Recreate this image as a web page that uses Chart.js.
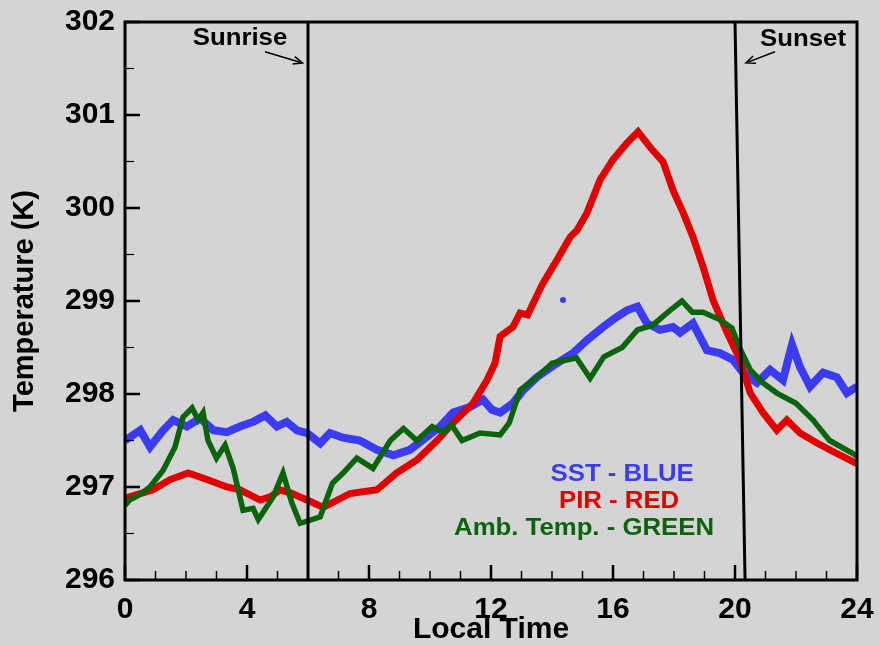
<!DOCTYPE html>
<html>
<head>
<meta charset="utf-8">
<script src="https://cdn.jsdelivr.net/npm/chart.js"></script>
<style>
  html, body { margin: 0; padding: 0; background: #d4d4d4; overflow: hidden; }
</style>
</head>
<body>
<canvas id="myChart" width="879" height="645"></canvas>
<script>
// SST (blue)
const sstTime = [0, 0.5, 0.82, 1.25, 1.58, 2.03, 2.46, 2.9, 3.34, 3.77, 4.2, 4.6, 4.98, 5.3, 5.64, 5.97, 6.4, 6.72, 7.15, 7.7, 8.26, 8.8, 9.34, 9.9, 10.33, 10.76, 11.31, 11.74, 12.03, 12.3, 12.72, 13.05, 13.5, 14.16, 14.69, 15.15, 15.67, 16.13, 16.46, 16.8, 17.11, 17.54, 17.97, 18.2, 18.62, 19.08, 19.5, 19.93, 20.26, 20.72, 21.15, 21.57, 21.87, 22.13, 22.46, 22.89, 23.34, 23.67, 24];
const sstTemp = [297.5, 297.61, 297.43, 297.61, 297.72, 297.65, 297.74, 297.61, 297.59, 297.65, 297.7, 297.77, 297.65, 297.7, 297.61, 297.58, 297.47, 297.58, 297.53, 297.5, 297.4, 297.34, 297.4, 297.54, 297.65, 297.8, 297.86, 297.94, 297.83, 297.8, 297.9, 298.04, 298.18, 298.33, 298.44, 298.58, 298.72, 298.83, 298.9, 298.94, 298.76, 298.69, 298.72, 298.66, 298.76, 298.47, 298.44, 298.37, 298.23, 298.12, 298.26, 298.15, 298.53, 298.29, 298.08, 298.23, 298.18, 298.01, 298.08];
const sstStrayTime = [14.36];
const sstStrayTemp = [299.01];

// PIR (red)
const pirTime = [0, 0.92, 1.48, 2.07, 2.69, 3.34, 3.77, 4.43, 4.8, 5.08, 5.4, 5.97, 6.5, 7.38, 8.26, 8.9, 9.57, 10.23, 10.76, 11.41, 11.87, 12.13, 12.3, 12.72, 12.95, 13.2, 13.7, 14.16, 14.6, 14.82, 15.15, 15.57, 16.0, 16.46, 16.82, 17.3, 17.64, 17.97, 18.3, 18.62, 18.95, 19.28, 19.74, 20.16, 20.5, 20.92, 21.37, 21.7, 22.13, 22.7, 23.34, 24];
const pirTemp = [296.88, 296.97, 297.08, 297.15, 297.08, 297.0, 296.97, 296.86, 296.9, 296.97, 296.94, 296.86, 296.78, 296.93, 296.97, 297.15, 297.29, 297.5, 297.69, 297.9, 298.15, 298.33, 298.62, 298.72, 298.87, 298.85, 299.19, 299.44, 299.69, 299.76, 299.95, 300.3, 300.52, 300.7, 300.82, 300.62, 300.5, 300.19, 299.95, 299.69, 299.37, 299.01, 298.66, 298.37, 298.01, 297.8, 297.61, 297.72, 297.58, 297.47, 297.36, 297.25];

// Ambient temperature (green)
const ambTime = [0, 0.15, 0.5, 0.82, 1.25, 1.64, 1.9, 2.2, 2.4, 2.56, 2.72, 3.0, 3.28, 3.54, 3.87, 4.2, 4.37, 4.85, 5.18, 5.47, 5.74, 5.95, 6.4, 6.8, 7.15, 7.6, 8.13, 8.7, 9.13, 9.57, 10.07, 10.43, 10.7, 11.05, 11.64, 12.3, 12.6, 12.95, 13.5, 14.0, 14.8, 15.25, 15.7, 16.3, 16.8, 17.3, 17.87, 18.26, 18.6, 18.95, 19.5, 19.9, 20.16, 20.5, 20.92, 21.37, 22.0, 22.56, 23.1, 23.87, 24];
const ambTemp = [296.8, 296.86, 296.92, 297.0, 297.18, 297.43, 297.75, 297.85, 297.72, 297.8, 297.5, 297.31, 297.45, 297.21, 296.75, 296.77, 296.65, 296.89, 297.15, 296.83, 296.61, 296.63, 296.68, 297.04, 297.15, 297.31, 297.2, 297.5, 297.63, 297.5, 297.65, 297.59, 297.67, 297.5, 297.58, 297.56, 297.69, 298.04, 298.18, 298.33, 298.39, 298.17, 298.4, 298.5, 298.69, 298.74, 298.9, 299.0, 298.88, 298.88, 298.8, 298.71, 298.49, 298.26, 298.12, 298.01, 297.9, 297.72, 297.5, 297.36, 297.33];

// sunrise / sunset marker lines
const sunriseTime = [6, 6];
const sunriseTemp = [296, 302];
const sunsetTime = [20.0, 20.33];
const sunsetTemp = [302, 296];

// ticks
const xMajorTicks = [0, 4, 8, 12, 16, 20, 24];
const xMinorTicks = [1, 2, 3, 5, 6, 7, 9, 10, 11, 13, 14, 15, 17, 18, 19, 21, 22, 23];
const yMajorTicks = [296, 297, 298, 299, 300, 301, 302];
const yMinorTicks = [296.5, 297.5, 298.5, 299.5, 300.5, 301.5];

const legendLines = ['SST - BLUE', 'PIR - RED', 'Amb. Temp. - GREEN'];
const legendColors = ['#3b3bf2', '#e00000', '#0b640b'];

const pts = (xs, ys) => xs.map((x, i) => ({ x: x, y: ys[i] }));
const FONT = '"Liberation Sans", Arial, Helvetica, sans-serif';

// text slightly wider than the plain font, like the original
function wideText(ctx, text, px, py, sx) {
  ctx.save();
  ctx.translate(px, py);
  ctx.scale(sx, 1);
  ctx.fillText(text, 0, 0);
  ctx.restore();
}

const decorations = {
  id: 'decorations',
  afterDatasetsDraw(chart) {
    const { ctx, chartArea: a, scales: { x, y } } = chart;
    ctx.save();
    ctx.strokeStyle = '#000';
    ctx.lineCap = 'butt';

    // inward ticks
    const tick = (x1, y1, x2, y2, w) => {
      ctx.lineWidth = w;
      ctx.beginPath(); ctx.moveTo(x1, y1); ctx.lineTo(x2, y2); ctx.stroke();
    };
    xMajorTicks.forEach(v => { const px = x.getPixelForValue(v); tick(px, a.bottom, px, a.bottom - 15, 2.5); });
    xMinorTicks.forEach(v => { const px = x.getPixelForValue(v); tick(px, a.bottom, px, a.bottom - 9, 1.5); });
    yMajorTicks.forEach(v => { const py = y.getPixelForValue(v); tick(a.left, py, a.left + 15, py, 2.5); });
    yMinorTicks.forEach(v => { const py = y.getPixelForValue(v); tick(a.left, py, a.left + 9, py, 1.2); });

    // frame
    ctx.lineWidth = 3;
    ctx.strokeRect(a.left, a.top, a.width, a.height);

    // annotation text + arrows
    ctx.fillStyle = '#000';
    ctx.font = 'bold 23px ' + FONT;
    ctx.textAlign = 'center';
    ctx.textBaseline = 'middle';
    wideText(ctx, 'Sunrise', x.getPixelForValue(3.77), y.getPixelForValue(301.82), 1.12);
    wideText(ctx, 'Sunset', x.getPixelForValue(22.23), y.getPixelForValue(301.81), 1.12);

    const arrow = (t0, k0, t1, k1) => {
      const x0 = x.getPixelForValue(t0), y0 = y.getPixelForValue(k0);
      const x1 = x.getPixelForValue(t1), y1 = y.getPixelForValue(k1);
      ctx.lineWidth = 1.5;
      ctx.beginPath(); ctx.moveTo(x0, y0); ctx.lineTo(x1, y1); ctx.stroke();
      const ang = Math.atan2(y1 - y0, x1 - x0);
      ctx.beginPath();
      ctx.moveTo(x1 - 10 * Math.cos(ang - 0.4), y1 - 10 * Math.sin(ang - 0.4));
      ctx.lineTo(x1, y1);
      ctx.lineTo(x1 - 10 * Math.cos(ang + 0.4), y1 - 10 * Math.sin(ang + 0.4));
      ctx.stroke();
    };
    arrow(4.59, 301.68, 5.82, 301.56);
    arrow(21.31, 301.68, 20.36, 301.56);

    // colour key
    ctx.font = 'bold 23px ' + FONT;
    const keyX = [16.3, 16.2, 15.05];
    const keyY = [297.13, 296.84, 296.55];
    legendLines.forEach((t, i) => {
      ctx.fillStyle = legendColors[i];
      wideText(ctx, t, x.getPixelForValue(keyX[i]), y.getPixelForValue(keyY[i]), 1.12);
    });
    ctx.restore();
  }
};

const bgPlugin = {
  id: 'bg',
  beforeDraw(chart) {
    const ctx = chart.ctx;
    ctx.save();
    ctx.fillStyle = '#d4d4d4';
    ctx.fillRect(0, 0, chart.width, chart.height);
    ctx.restore();
  }
};

new Chart(document.getElementById('myChart'), {
  type: 'scatter',
  data: {
    datasets: [
      { label: 'Sunrise', data: pts(sunriseTime, sunriseTemp), showLine: true, borderColor: '#000', borderWidth: 3, pointRadius: 0, order: 0 },
      { label: 'Sunset', data: pts(sunsetTime, sunsetTemp), showLine: true, borderColor: '#000', borderWidth: 3, pointRadius: 0, order: 0 },
      { label: 'Amb. Temp.', data: pts(ambTime, ambTemp), showLine: true, borderColor: '#0b640b', borderWidth: 5.5, pointRadius: 0, order: 1 },
      { label: 'PIR', data: pts(pirTime, pirTemp), showLine: true, borderColor: '#e00000', borderWidth: 7, pointRadius: 0, order: 2 },
      { label: 'SST', data: pts(sstTime, sstTemp), showLine: true, borderColor: '#3b3bf2', borderWidth: 8, pointRadius: 0, order: 3 },
      { label: 'SST stray', data: pts(sstStrayTime, sstStrayTemp), showLine: false, backgroundColor: '#3b3bf2', borderWidth: 0, pointRadius: 3, order: 3 }
    ]
  },
  options: {
    responsive: false,
    animation: false,
    layout: { padding: { top: 22, right: 22, left: 0, bottom: 0 } },
    plugins: { legend: { display: false }, tooltip: { enabled: false } },
    scales: {
      x: {
        type: 'linear', min: 0, max: 24,
        grid: { display: false, drawTicks: false },
        border: { display: false },
        ticks: { stepSize: 4, padding: 12, color: '#000', font: { family: FONT, size: 30, weight: 'bold' }, maxRotation: 0 },
        title: { display: true, text: 'Local Time', color: '#000', padding: 0, font: { family: FONT, size: 30, weight: 'bold', lineHeight: 1 } },
        afterFit: s => { s.height = 65; s.paddingLeft = 0; s.paddingRight = 0; }
      },
      y: {
        type: 'linear', min: 296, max: 302,
        grid: { display: false, drawTicks: false },
        border: { display: false },
        ticks: { stepSize: 1, padding: 10, color: '#000', font: { family: FONT, size: 30, weight: 'bold' } },
        title: { display: true, text: 'Temperature (K)', color: '#000', padding: { top: 10, bottom: 0 }, font: { family: FONT, size: 29, weight: 'bold', lineHeight: 1 } },
        afterFit: s => { s.width = 125; s.paddingTop = 0; s.paddingBottom = 0; }
      }
    }
  },
  plugins: [bgPlugin, decorations]
});
</script>
</body>
</html>
